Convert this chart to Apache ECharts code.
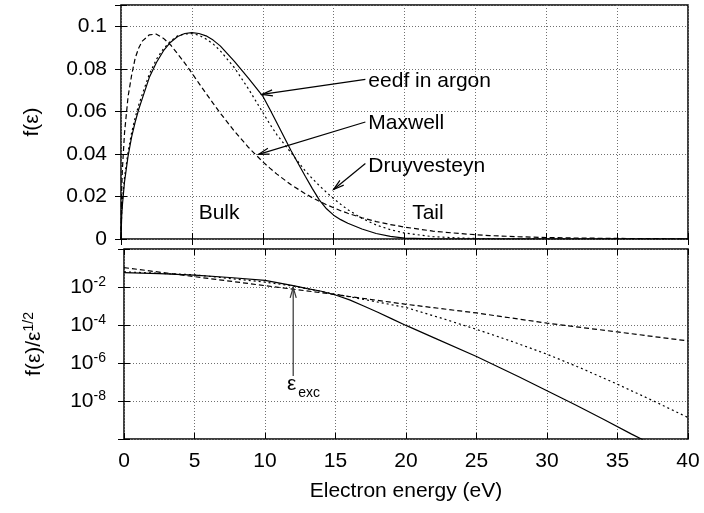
<!DOCTYPE html>
<html><head><meta charset="utf-8">
<script src="https://cdn.jsdelivr.net/npm/echarts@6/dist/echarts.min.js"></script>
<style>html,body{margin:0;padding:0;background:#fff}#c{width:704px;height:513px}</style>
</head><body><div id="c"></div>
<script>
// ---- data ----
const energyTop =  [0, 0.05, 0.1, 0.25, 0.5, 0.75, 1, 1.25, 1.5, 2, 2.5, 3, 3.5, 4, 4.5, 5, 5.5, 6, 6.5, 7, 8, 9, 10, 10.5, 11, 12, 13, 13.5, 14, 14.5, 15, 15.5, 16, 17, 18, 19, 20, 22, 24, 26, 28, 30, 32, 35, 38, 40];
const eedfTop =    [0, 0.011, 0.016, 0.027, 0.039, 0.048, 0.055, 0.061, 0.066, 0.076, 0.083, 0.0885, 0.0925, 0.0952, 0.0966, 0.097, 0.0966, 0.0955, 0.0935, 0.0908, 0.0835, 0.0755, 0.0672, 0.061, 0.0545, 0.0415, 0.0295, 0.0237, 0.0183, 0.0142, 0.0112, 0.0091, 0.0074, 0.0047, 0.0026, 0.0012, 0.0004, 0.00004, 0, 0, 0, 0, 0, 0, 0, 0];
const maxwellTop = [0, 0.0234, 0.033, 0.050, 0.067, 0.077, 0.085, 0.0898, 0.093, 0.096, 0.0963, 0.0943, 0.0912, 0.087, 0.0827, 0.078, 0.0732, 0.0684, 0.0638, 0.0592, 0.0507, 0.043, 0.0363, 0.0333, 0.0305, 0.0255, 0.0213, 0.0194, 0.0177, 0.0161, 0.0147, 0.0133, 0.0121, 0.0100, 0.0082, 0.0068, 0.0056, 0.0037, 0.0025, 0.0016, 0.0011, 0.0007, 0.00047, 0.00026, 0.00014, 0.00009];
const druyTop =    [0, 0.013, 0.018, 0.029, 0.041, 0.050, 0.057, 0.063, 0.068, 0.0775, 0.0845, 0.0895, 0.093, 0.0955, 0.0964, 0.0965, 0.0958, 0.094, 0.0917, 0.0885, 0.0805, 0.0705, 0.0595, 0.054, 0.049, 0.0405, 0.032, 0.0284, 0.025, 0.0219, 0.019, 0.0163, 0.0138, 0.0097, 0.0066, 0.0044, 0.0028, 0.0011, 0.0004, 0.00012, 0.00003, 0, 0, 0, 0, 0];

const energyLogEedf = [0, 2.5, 5, 7.5, 10, 12, 13, 14, 15, 16, 17, 18, 19, 20, 22, 25, 28, 30, 32, 34, 36, 37.5, 40];
const eedfLog = [0.0575, 0.0501, 0.0417, 0.0316, 0.0224, 0.0117, 0.0083, 0.0060, 0.0038, 0.0021, 0.0010, 4.7e-4, 2.1e-4, 9.5e-5, 2.1e-5, 2.2e-6, 1.9e-7, 3.5e-8, 6.3e-9, 1.1e-9, 1.8e-10, 5e-11, 6.3e-12];
const energyLogMaxwell = [0, 5, 10, 15, 20, 25, 30, 35, 40];
const maxwellLog = [0.105, 0.035, 0.0118, 0.0040, 0.00123, 4.3e-4, 1.25e-4, 4.3e-5, 1.45e-5];
const energyLogDruy = [0, 5, 10, 12, 15, 17.5, 20, 22.5, 25, 27.5, 30, 32.5, 35, 37.5, 40];
const druyLog = [0.063, 0.0437, 0.0182, 0.0112, 0.0042, 0.0019, 8.3e-4, 2.3e-4, 5.9e-5, 1.38e-5, 2.9e-6, 5e-7, 7.6e-8, 1.05e-8, 1.35e-9];

const xTickStep = 5;           // 0,5,...,40
const topYTickStep = 0.02;     // 0 ... 0.1
const logDecadeStep = 2;       // 1e-10, 1e-8, ... 1e0
const logHiddenExponents = [0, -10];

// ---- annotations (data coordinates) ----
const annTop = [
  {text: 'eedf in argon', at: [17.45, 0.0743], tail: [17.24, 0.075], tip: [9.95, 0.068]},
  {text: 'Maxwell', at: [17.45, 0.0545], tail: [17.24, 0.055], tip: [9.71, 0.0398]},
  {text: 'Druyvesteyn', at: [17.45, 0.0342], tail: [17.24, 0.0355], tip: [15.0, 0.0233]},
  {text: 'Bulk', at: [5.48, 0.0123]},
  {text: 'Tail', at: [20.54, 0.0123]}
];
const excArrow = {tail: [12, 2.1e-7], tip: [12, 0.0096], eps: [11.56, 8.1e-8], sub: [12.36, 2.7e-8]};

const FONT = '"Liberation Sans", Arial, Helvetica, sans-serif';
const FS = 21;
const pairs = (xs, ys) => xs.map((x, i) => [x, ys[i]]);

const grid = [
  {left: 121, right: 16, top: 5, height: 234, show: true, borderColor: '#000', borderWidth: 1.5, backgroundColor: 'transparent'},
  {left: 124, right: 16, top: 249, height: 190, show: true, borderColor: '#000', borderWidth: 1.5, backgroundColor: 'transparent'}
];
const gridLine = {show: true, lineStyle: {color: '#707070', width: 1, type: [1, 2]}};
const tick = {show: true, inside: true, length: 6, lineStyle: {color: '#000', width: 1}};
const noLine = {show: false};

function xAx(gi, pos, labels, split) {
  return {
    gridIndex: gi, type: 'value', position: pos, min: 0, max: 40, interval: xTickStep,
    axisLine: noLine, axisTick: tick, splitLine: split ? gridLine : {show: false},
    axisLabel: labels ? {show: true, color: '#000', fontSize: FS, fontFamily: FONT, margin: 12} : {show: false}
  };
}
const richSup = (key) => {
  const r = {s: {fontSize: 14, lineHeight: 14, fontFamily: FONT, color: '#000', verticalAlign: 'top'}};
  r[key] = {fontSize: FS, lineHeight: 24, fontFamily: FONT, color: '#000'};
  return r;
};

const option = {
  animation: false,
  backgroundColor: '#fff',
  grid: grid,
  xAxis: [
    xAx(0, 'bottom', false, true),
    xAx(0, 'top', false, false),
    Object.assign(xAx(1, 'bottom', true, true), {
      name: 'Electron energy (eV)', nameLocation: 'middle', nameGap: 42,
      nameTextStyle: {color: '#000', fontSize: FS, fontFamily: FONT}
    }),
    xAx(1, 'top', false, false)
  ],
  yAxis: [
    {
      gridIndex: 0, type: 'value', min: 0, max: 0.11, interval: topYTickStep,
      axisLine: noLine, axisTick: tick, splitLine: gridLine,
      axisLabel: {color: '#000', fontSize: FS, fontFamily: FONT, margin: 14,
        formatter: v => v > 0.105 ? '' : (v === 0 ? '0' : String(+v.toFixed(2)))},
      name: 'f(ε)', nameLocation: 'middle', nameGap: 78,
      nameTextStyle: {color: '#000', fontSize: FS, fontFamily: FONT}
    },
    {
      gridIndex: 0, type: 'value', position: 'right', min: 0, max: 0.11, interval: topYTickStep,
      axisLine: noLine, axisTick: tick, splitLine: {show: false}, axisLabel: {show: false}
    },
    {
      gridIndex: 1, type: 'log', logBase: 10, min: 1e-10, max: 1, interval: logDecadeStep, splitNumber: 5,
      axisLine: noLine, axisTick: tick, splitLine: gridLine,
      axisLabel: {
        color: '#000', fontFamily: FONT, margin: 18,
        formatter: v => {
          const e = Math.round(Math.log10(v));
          if (logHiddenExponents.indexOf(e) >= 0) return '';
          return '{b|10}{s|' + e + '}';
        },
        rich: richSup('b')
      },
      name: '{a|f(ε)/ε}{s|1/2}', nameLocation: 'middle', nameGap: 78,
      nameTextStyle: {color: '#000', fontFamily: FONT, rich: richSup('a')}
    },
    {
      gridIndex: 1, type: 'log', logBase: 10, min: 1e-10, max: 1, interval: logDecadeStep, splitNumber: 5, position: 'right',
      axisLine: noLine, axisTick: tick, splitLine: {show: false}, axisLabel: {show: false}
    }
  ],
  series: [
    {name: 'eedf', type: 'line', xAxisIndex: 0, yAxisIndex: 0, symbol: 'none', data: pairs(energyTop, eedfTop),
     lineStyle: {color: '#000', width: 1.2, type: 'solid'}, z: 5},
    {name: 'Maxwell', type: 'line', xAxisIndex: 0, yAxisIndex: 0, symbol: 'none', data: pairs(energyTop, maxwellTop),
     lineStyle: {color: '#000', width: 1.2, type: [5, 3]}, z: 5},
    {name: 'Druyvesteyn', type: 'line', xAxisIndex: 0, yAxisIndex: 0, symbol: 'none', data: pairs(energyTop, druyTop),
     lineStyle: {color: '#000', width: 1.2, type: [2, 3]}, z: 5},
    {name: 'eedf log', type: 'line', xAxisIndex: 2, yAxisIndex: 2, symbol: 'none', data: pairs(energyLogEedf, eedfLog),
     lineStyle: {color: '#000', width: 1.2, type: 'solid'}, z: 5},
    {name: 'Maxwell log', type: 'line', xAxisIndex: 2, yAxisIndex: 2, symbol: 'none', data: pairs(energyLogMaxwell, maxwellLog),
     lineStyle: {color: '#000', width: 1.2, type: [5, 3]}, z: 5},
    {name: 'Druyvesteyn log', type: 'line', xAxisIndex: 2, yAxisIndex: 2, symbol: 'none', data: pairs(energyLogDruy, druyLog),
     lineStyle: {color: '#000', width: 1.2, type: [2, 3]}, z: 5}
  ]
};

const chart = echarts.init(document.getElementById('c'), null, {renderer: 'canvas'});
chart.setOption(option);

function arrowEls(p0, p1, color) {
  const dx = p0[0] - p1[0], dy = p0[1] - p1[1];
  const L = Math.hypot(dx, dy), ux = dx / L, uy = dy / L;
  const len = 11, ang = 16 * Math.PI / 180;
  const rot = a => [p1[0] + len * (ux * Math.cos(a) - uy * Math.sin(a)), p1[1] + len * (ux * Math.sin(a) + uy * Math.cos(a))];
  return [
    {type: 'line', shape: {x1: p0[0], y1: p0[1], x2: p1[0], y2: p1[1]}, style: {stroke: color, lineWidth: 1.2}, z: 10},
    {type: 'polyline', shape: {points: [rot(ang), p1, rot(-ang)]}, style: {stroke: color, lineWidth: 1.2, fill: null}, z: 10}
  ];
}
const topPx = v => chart.convertToPixel({xAxisIndex: 0, yAxisIndex: 0}, v);
const botPx = v => chart.convertToPixel({xAxisIndex: 2, yAxisIndex: 2}, v);
const g = [];
annTop.forEach(a => {
  const p = topPx(a.at);
  g.push({type: 'text', x: p[0], y: p[1], z: 10,
    style: {text: a.text, fontSize: FS, fontFamily: FONT, fill: '#000', align: 'left', verticalAlign: 'middle'}});
  if (a.tail) g.push.apply(g, arrowEls(topPx(a.tail), topPx(a.tip), '#000'));
});
g.push.apply(g, arrowEls(botPx(excArrow.tail), botPx(excArrow.tip), '#333'));
const pe = botPx(excArrow.eps), ps = botPx(excArrow.sub);
g.push({type: 'text', x: pe[0], y: pe[1], z: 10, style: {text: 'ε', fontSize: FS, fontFamily: FONT, fill: '#000', align: 'left', verticalAlign: 'middle'}});
g.push({type: 'text', x: ps[0], y: ps[1], z: 10, style: {text: 'exc', fontSize: 14, fontFamily: FONT, fill: '#000', align: 'left', verticalAlign: 'middle'}});
chart.setOption({graphic: g});
</script>
</body></html>
